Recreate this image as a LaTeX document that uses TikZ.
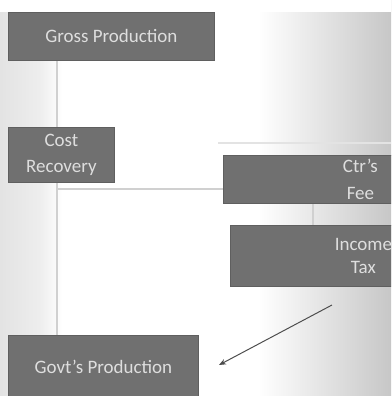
\documentclass[tikz,border=0pt]{standalone}
\usepackage{fontspec}
\setmainfont{Carlito}
\usepackage{xcolor}
\usetikzlibrary{arrows.meta, positioning, calc}

\definecolor{boxgray}{RGB}{112,112,112}
\definecolor{txtgray}{RGB}{222,222,222}
\definecolor{linegray}{RGB}{208,208,208}

\pgfdeclarehorizontalshading{backdrop}{100bp}{color(0bp)=(black!11); color(25bp)=(black!11);
  color(30bp)=(black!7); color(33bp)=(white); color(58bp)=(white); color(75bp)=(black!22);
  color(100bp)=(black!22)}

\tikzset{
  share/.style={rectangle, fill=boxgray, draw=boxgray!85!black, line width=0.6pt,
    text=txtgray, font=\fontsize{13.5}{17}\selectfont, align=center, anchor=north west,
    inner sep=0pt},
  guide/.style={draw=linegray, line width=1.2pt},
  flow/.style={draw=black!70, line width=0.7pt, -{Stealth[length=5pt,width=4pt]}}
}

\begin{document}
\begin{tikzpicture}[x=0.025cm, y=-0.025cm]
      % page and background shading
      \useasboundingbox (0,0) rectangle (391,396);
      \clip (0,0) rectangle (391,396);
      \shade[shading=backdrop] (0,0) rectangle (391,396);
      \fill[white] (0,0) rectangle (391,12);

      % guide lines behind the boxes
      \draw[guide] (57,60) -- (57,336);
      \draw[guide] (57,189) -- (224,189);
      \draw[guide, draw=linegray!60] (218,143) -- (391,143);
      \draw[guide] (313,203) -- (313,226);

      % shares
      \node[share, minimum width=206*0.025cm, minimum height=48*0.025cm] (gross) at (8,12) {Gross Production};
      \node[share, minimum width=106*0.025cm, minimum height=55*0.025cm] (cost) at (8,127) {Cost\\[2pt]Recovery};
      \node[share, minimum width=274*0.025cm, minimum height=48*0.025cm] (fee) at (223,155) {Ctr's\\[2pt]Fee};
      \node[share, minimum width=266*0.025cm, minimum height=61*0.025cm] (tax) at (230,225) {Income\\[-1pt]Tax};
      \node[share, minimum width=190*0.025cm, minimum height=62*0.025cm] (govt) at (8,335) {Govt's Production};

      % arrow to the government share
      \coordinate (from) at (332,305);
      \coordinate (to) at (219,365);
      \draw[flow] (from) -- (to);
\end{tikzpicture}
\end{document}
